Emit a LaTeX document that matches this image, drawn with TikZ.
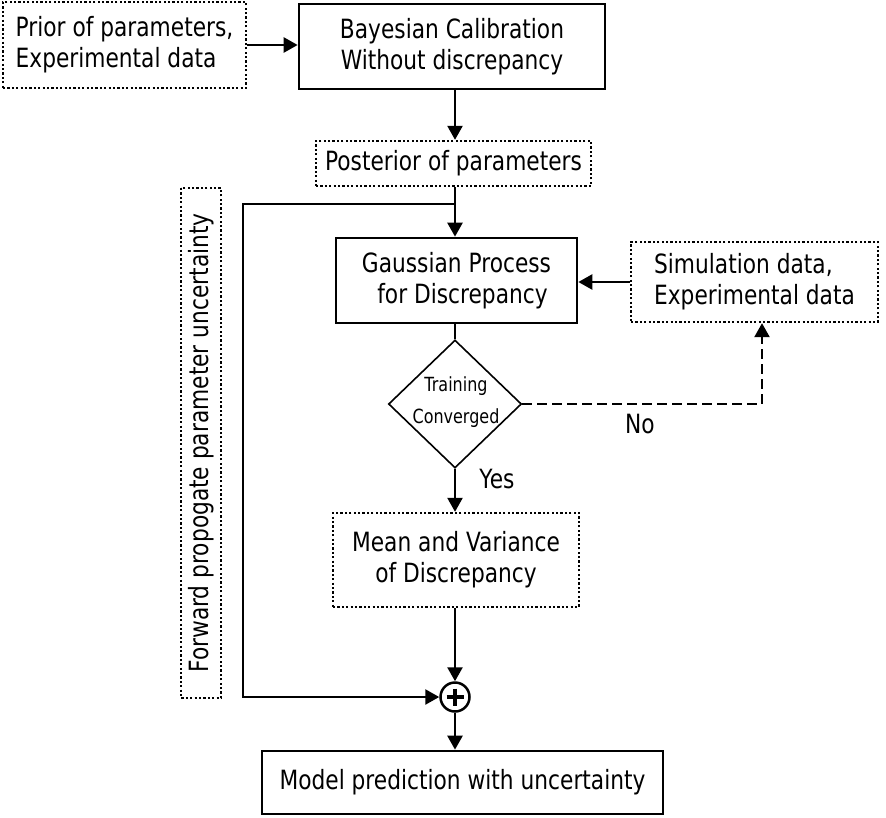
\documentclass[tikz,border=0pt]{standalone}
\usepackage{fontspec}
\setmainfont{DejaVu Sans}[FakeStretch=0.82]
\usetikzlibrary{arrows.meta,shapes.geometric,calc}
\begin{document}
\begin{tikzpicture}[x=1pt,y=-1pt,
  every node/.style={font=\fontsize{26.5}{31}\selectfont, inner sep=0pt},
  solidbox/.style={draw, line width=2.7pt, align=center},
  dotbox/.style={draw, line width=2.4pt, dash pattern=on 2.2pt off 2.2pt, align=center},
  conn/.style={line width=2.5pt},
  arr/.style={conn, -{Triangle[length=14pt,width=15pt]}},
  dasharr/.style={arr, dash pattern=on 10pt off 5pt},
  smalltext/.style={font=\fontsize{19.5}{32}\selectfont, align=center},
]
\useasboundingbox (0,0) rectangle (886,817);
\coordinate (tx) at (455,0);
\coordinate (simx) at (762,0);

\node[dotbox, align=left, minimum width=243pt, minimum height=86pt] (prior) at (124.5,45) {Prior of parameters,\\Experimental data};
\node[solidbox, minimum width=306pt, minimum height=85pt] (bayes) at (452,46.5) {Bayesian Calibration\\Without discrepancy};
\node[dotbox, minimum width=275pt, minimum height=45pt] (post) at (453.5,163.5) {Posterior of parameters};
\node[dotbox, rotate=90, minimum width=510pt, minimum height=40pt] (fwd) at (201,443) {Forward propogate parameter uncertainty};
\node[solidbox, minimum width=241pt, minimum height=85pt] (gp) at (456.5,280.5) {Gaussian Process\\\hspace*{12pt}for Discrepancy};
\node[dotbox, align=left, minimum width=247pt, minimum height=80pt] (sim) at (754.5,282) {Simulation data,\\Experimental data};
\node[diamond, draw, line width=1.6pt, minimum width=133pt, minimum height=128pt, aspect=1] (dia) at (455,404) {};
\node[smalltext] (diatext) at (456,402) {Training\\Converged};
\node[dotbox, minimum width=246pt, minimum height=94pt] (mean) at (456,560) {Mean and Variance\\of Discrepancy};
\node[circle, draw, line width=2.5pt, minimum size=29pt] (plus) at (455,697) {};
\node[solidbox, minimum width=401pt, minimum height=63pt] (model) at (462.5,782.5) {Model prediction with uncertainty};
\node (no) at (640,424) {No};
\node (yes) at (497,479) {Yes};

\draw[line width=3.2pt] ($(plus.center)+(-8.5,0)$) -- ($(plus.center)+(8.5,0)$);
\draw[line width=3.2pt] ($(plus.center)+(0,-8.5)$) -- ($(plus.center)+(0,8.5)$);

\coordinate (br) at (455,204);
\coordinate (bl) at (243,204);

\draw[arr] (prior.east) -- (prior.east -| bayes.west);
\draw[arr] (bayes.south -| tx) -- (post.north -| tx);
\draw[arr] (post.south -| tx) -- (gp.north -| tx);
\draw[arr] (br) -- (bl) -- (bl |- plus.west) -- (plus.west);
\draw[arr] (sim.west) -- (sim.west -| gp.east);
\draw[conn] (gp.south -| tx) -- (dia.north);
\draw[dasharr] (dia.east) -- (dia.east -| simx) -- (sim.south -| simx);
\draw[arr] (dia.south) -- (mean.north -| tx);
\draw[arr] (mean.south -| tx) -- (plus.north);
\draw[arr] (plus.south) -- (plus.south |- model.north);
\end{tikzpicture}
\end{document}
